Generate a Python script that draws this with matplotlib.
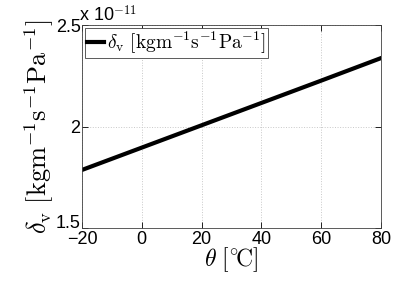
"""Vapour permeability vs temperature"""
import matplotlib
matplotlib.use("Agg")
import matplotlib.pyplot as plt
from matplotlib.ticker import FixedLocator
from matplotlib.transforms import ScaledTranslation

plt.rcParams["font.family"] = ["Liberation Sans", "DejaVu Sans"]
plt.rcParams["mathtext.fontset"] = "cm"

# data
theta = [-20, 0, 20, 40, 60, 80]
delta_v = [1.786e-11, 1.896e-11, 2.006e-11, 2.116e-11, 2.226e-11, 2.337e-11]

fig = plt.figure(figsize=(4.09, 2.81), dpi=100)
ax = fig.add_axes([82 / 409, 1 - 228 / 281, 299 / 409, 203 / 281])

ax.plot(theta, delta_v, color="black", lw=3,
        label=r"$\delta_\mathrm{v}\ [\mathrm{kgm^{-1}s^{-1}Pa^{-1}}]$")

ax.set_xlim(-20, 80)
ax.set_ylim(1.5e-11, 2.5e-11)
ax.set_xticks([-20, 0, 20, 40, 60, 80])
ax.set_xticklabels(["\u221220", "0", "20", "40", "60", "80"])
ax.yaxis.set_major_locator(FixedLocator([1.5e-11, 2e-11, 2.5e-11]))
ax.set_yticklabels(["1.5", "2", "2.5"])
ax.tick_params(direction="in", labelsize=13, length=4, width=0.6, pad=2,
               top=True, right=True)
ax.tick_params(axis="y", pad=1)
ax.grid(True, linestyle=":", color="#c8c8c8", lw=0.7)
for s in ax.spines.values():
    s.set_linewidth(0.6)
    s.set_color("#404040")

# lift the lowest y label a little so it clears the -20
lab = ax.get_yticklabels()[0]
lab.set_transform(lab.get_transform() + ScaledTranslation(0, 5 / 72, fig.dpi_scale_trans))

ax.text(-0.01, 1.0, r"x 10$^{-11}$", transform=ax.transAxes, fontsize=13,
        ha="left", va="bottom")

ax.set_xlabel(r"$\theta\ [{}^{\circ}\!\mathrm{C}]$", fontsize=17, labelpad=-2)
ax.set_ylabel(r"$\delta_\mathrm{v}\ [\mathrm{kgm^{-1}s^{-1}Pa^{-1}}]$",
              fontsize=19, labelpad=0)

leg = ax.legend(loc="upper left", fontsize=14, handlelength=0.9,
                handletextpad=0.15, borderpad=0.1, borderaxespad=0.15,
                fancybox=False, framealpha=1)
leg.get_frame().set_edgecolor("#404040")
leg.get_frame().set_linewidth(0.6)

fig.savefig("out.png", dpi=100)
